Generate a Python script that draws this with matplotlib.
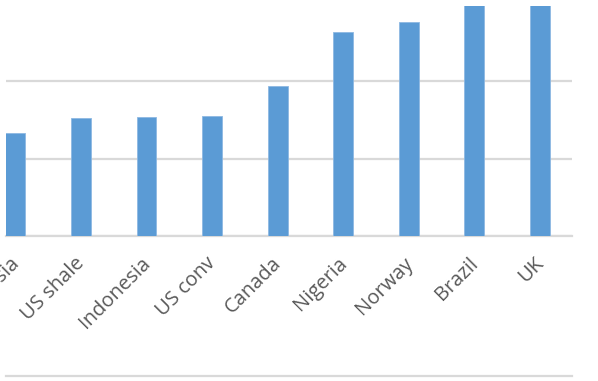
import matplotlib
matplotlib.use("Agg")
import matplotlib.pyplot as plt
from matplotlib.lines import Line2D
from matplotlib.transforms import ScaledTranslation

countries = ["Russia", "US shale", "Indonesia", "US conv", "Canada",
             "Nigeria", "Norway", "Brazil", "UK"]
values = [26.6, 30.4, 30.8, 30.9, 38.8, 52.6, 55.2, 62.0, 62.0]
grid_ticks = [0, 20, 40]

BAR = "#5B9BD5"
GRID = "#D9D9D9"
TEXT = "#595959"

W, H, DPI = 598, 381, 100
fig = plt.figure(figsize=(W / DPI, H / DPI), dpi=DPI)
left, right = 6 / W, 572 / W
bottom, top = (H - 236) / H, (H - 6) / H
ax = fig.add_axes([left, bottom, right - left, top - bottom])

x = list(range(len(countries)))
ax.bar(x, values, width=0.305, color=BAR, edgecolor="#8DB8E2",
       linewidth=0.6, zorder=3)

ax.set_xlim(-0.143, 8.49)
ax.set_ylim(0, 59.4)
ax.set_yticks(grid_ticks)
ax.yaxis.grid(True, color=GRID, linewidth=1.6, zorder=0)
ax.tick_params(axis="y", left=False, labelleft=False)
ax.tick_params(axis="x", bottom=False, pad=14)
for s in ["top", "right", "left"]:
    ax.spines[s].set_visible(False)
ax.spines["bottom"].set_color(GRID)
ax.spines["bottom"].set_linewidth(1.6)

ax.set_xticks(x)
ax.set_xticklabels(countries, rotation=45, ha="right", va="center",
                   rotation_mode="anchor", fontsize=14.5,
                   family="Open Sans", color=TEXT)
shift = ScaledTranslation(1 / DPI, 0, fig.dpi_scale_trans)
for lbl in ax.get_xticklabels():
    lbl.set_clip_on(False)
    lbl.set_transform(lbl.get_transform() + shift)

# bottom border of the chart area
fig.add_artist(Line2D([left, right], [(H - 376) / H, (H - 376) / H],
                      transform=fig.transFigure, color=GRID, linewidth=1.6))

fig.savefig("out.png", dpi=DPI)
